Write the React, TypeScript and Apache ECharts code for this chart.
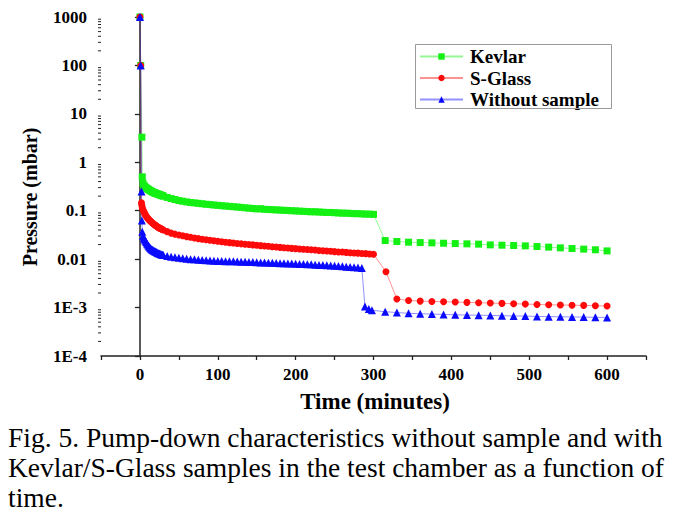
import React, { useEffect, useRef } from "react";
import * as echarts from "echarts";

// ---- Data ----
const denseTime = [
  5, 10, 15, 20, 25, 30, 35, 40, 45, 50, 55, 60, 65, 70, 75, 80, 85, 90, 95, 100,
  105, 110, 115, 120, 125, 130, 135, 140, 145, 150, 155, 160, 165, 170, 175, 180, 185, 190, 195, 200,
  205, 210, 215, 220, 225, 230, 235, 240, 245, 250, 255, 260, 265, 270, 275, 280, 285, 290, 295, 300,
];
const earlyTime = [6, 7, 8, 9, 11, 12, 13, 14, 16, 17, 18, 19, 21, 22, 23, 24, 26, 27, 28, 29];
const tailTime = [315, 330, 345, 360, 375, 390, 405, 420, 435, 450, 465, 480, 495, 510, 525, 540, 555, 570, 585, 600];

const kevlarHeadTime = [0, 1, 2.5, 3, 4];
const kevlarHead = [1000, 100, 3.3, 0.5, 0.37];
const kevlarEarly = [
  0.32, 0.305, 0.295, 0.287, 0.274, 0.268, 0.262, 0.256, 0.245, 0.241,
  0.237, 0.233, 0.227, 0.224, 0.221, 0.218, 0.212, 0.209, 0.206, 0.203,
];
const kevlarDense = [
  0.33, 0.28, 0.25, 0.23, 0.215, 0.2, 0.188, 0.178, 0.17, 0.162, 0.157, 0.152, 0.148, 0.145, 0.142, 0.139, 0.136, 0.134, 0.131, 0.129,
  0.127, 0.125, 0.123, 0.121, 0.119, 0.117, 0.115, 0.113, 0.111, 0.109, 0.11, 0.107, 0.106, 0.105, 0.104, 0.103, 0.102, 0.101, 0.1, 0.099,
  0.098, 0.097, 0.096, 0.095, 0.095, 0.094, 0.093, 0.092, 0.092, 0.091, 0.09, 0.089, 0.089, 0.088, 0.087, 0.087, 0.086, 0.085, 0.085, 0.084,
];
const kevlarTail = [
  0.0242, 0.0231, 0.0224, 0.022, 0.0217, 0.0213, 0.021, 0.0207, 0.0204, 0.0197,
  0.0194, 0.0191, 0.0188, 0.0182, 0.0177, 0.0171, 0.0166, 0.0161, 0.0156, 0.0148,
];

const sglassHeadTime = [0, 1, 2, 2.5, 3, 4];
const sglassHead = [1000, 100, 0.145, 0.13, 0.115, 0.105];
const sglassEarly = [
  0.088, 0.082, 0.077, 0.073, 0.067, 0.064, 0.062, 0.06, 0.056, 0.054,
  0.0525, 0.051, 0.0485, 0.047, 0.0458, 0.0448, 0.0432, 0.0424, 0.0416, 0.0408,
];
const sglassDense = [
  0.095, 0.07, 0.058, 0.05, 0.044, 0.04, 0.037, 0.0345, 0.0328, 0.0315, 0.0303, 0.0292, 0.0282, 0.0273, 0.0265, 0.0258, 0.0252, 0.0246, 0.024, 0.0234,
  0.0229, 0.0224, 0.0219, 0.0215, 0.0211, 0.0207, 0.0203, 0.02, 0.0197, 0.0193, 0.019, 0.0187, 0.0184, 0.0181, 0.0178, 0.0175, 0.0172, 0.017, 0.0167, 0.0165,
  0.0162, 0.016, 0.0158, 0.0156, 0.0154, 0.0151, 0.0149, 0.0147, 0.0145, 0.0143, 0.0141, 0.014, 0.0138, 0.0136, 0.0134, 0.0133, 0.0131, 0.013, 0.0128, 0.0126,
];
const sglassDropTime = [316];
const sglassDrop = [0.0055];
const sglassTail = [
  0.0015, 0.0014, 0.00136, 0.00134, 0.00132, 0.0013, 0.00128, 0.00126, 0.00124, 0.00122,
  0.0012, 0.00118, 0.00116, 0.00114, 0.00113, 0.00112, 0.00111, 0.00109, 0.00108,
];

const blankHeadTime = [0, 1, 2, 2.5, 3, 4];
const blankHead = [1000, 100, 0.25, 0.063, 0.037, 0.03];
const blankEarly = [
  0.0255, 0.024, 0.0225, 0.021, 0.019, 0.018, 0.0172, 0.0165, 0.0157, 0.0153,
  0.0149, 0.0146, 0.014, 0.0137, 0.0134, 0.0132, 0.0128, 0.0126, 0.0125, 0.0123,
];
const blankDense = [
  0.027, 0.02, 0.016, 0.0143, 0.013, 0.0122, 0.0116, 0.0112, 0.011, 0.0107, 0.0104, 0.0102, 0.01, 0.0099, 0.0097, 0.0096, 0.0095, 0.0094, 0.0093, 0.0092,
  0.0092, 0.0091, 0.009, 0.009, 0.0089, 0.0088, 0.0088, 0.0087, 0.0087, 0.0086, 0.0085, 0.0085, 0.0084, 0.0084, 0.0083, 0.0082, 0.0082, 0.0081, 0.0081, 0.008,
  0.0079, 0.0079, 0.0078, 0.0078, 0.0077, 0.0076, 0.0076, 0.0075, 0.0074, 0.0073, 0.0072, 0.0071, 0.007, 0.0069, 0.0068, 0.0067, 0.0066,
];
const blankDropTime = [289, 294, 298];
const blankDrop = [0.00105, 0.00093, 0.00088];
const blankTail = [
  0.00082, 0.00079, 0.00076, 0.000745, 0.000733, 0.000722, 0.00071, 0.0007, 0.000695, 0.000689,
  0.000678, 0.000672, 0.000667, 0.000656, 0.00065, 0.000646, 0.00064, 0.000635, 0.00063, 0.000626,
];

const seriesNames = ["Kevlar", "S-Glass", "Without sample"];
const xTickLabels = [0, 100, 200, 300, 400, 500, 600];
const captionLines = [
  "Fig. 5. Pump-down characteristics without sample and with",
  "Kevlar/S-Glass samples in the test chamber as a function of",
  "time.",
];

function zip(ts: number[], vs: number[]): number[][] {
  return vs.map((v, i) => [ts[i], v]);
}
function byTime(a: number[], b: number[]) {
  return a[0] - b[0];
}

const SERIF = "Liberation Serif";

export default function App() {
  const ref = useRef<HTMLDivElement>(null);

  useEffect(() => {
    document.body.style.margin = "0";
    if (!ref.current) return;
    const chart = echarts.init(ref.current, undefined, { renderer: "svg" });

    const kevlarData = [
      ...zip(kevlarHeadTime, kevlarHead),
      ...zip(earlyTime, kevlarEarly),
      ...zip(denseTime, kevlarDense),
      ...zip(tailTime, kevlarTail),
    ].sort(byTime);
    const sglassData = [
      ...zip(sglassHeadTime, sglassHead),
      ...zip(earlyTime, sglassEarly),
      ...zip(denseTime, sglassDense),
      ...zip(sglassDropTime, sglassDrop),
      ...zip(tailTime.slice(1), sglassTail),
    ].sort(byTime);
    const blankData = [
      ...zip(blankHeadTime, blankHead),
      ...zip(earlyTime, blankEarly),
      ...zip(denseTime.slice(0, blankDense.length), blankDense),
      ...zip(blankDropTime, blankDrop),
      ...zip(tailTime, blankTail),
    ].sort(byTime);

    // log-axis minor tick positions (2..9 x 10^k)
    const minorVals: number[][] = [];
    for (let k = -4; k <= 2; k++) {
      for (let m = 2; m <= 9; m++) minorVals.push([-50, m * Math.pow(10, k)]);
    }

    const lineSeries = (name: string, data: number[][], color: string, symbol: string, size: number) => ({
      name,
      type: "line",
      data,
      symbol,
      symbolSize: size,
      showAllSymbol: true,
      itemStyle: { color },
      lineStyle: { color, width: 1, opacity: 0.45 },
      z: 3,
    });

    const option: any = {
      animation: false,
      backgroundColor: "#fff",
      grid: { left: 101, right: 36, top: 17, bottom: 167, containLabel: false },
      xAxis: {
        type: "value",
        min: -50,
        max: 650,
        interval: 50,
        axisLine: { show: true, onZero: false, lineStyle: { color: "#222", width: 1.5 } },
        axisTick: { show: true, length: 4, lineStyle: { color: "#222", width: 1.3 } },
        axisLabel: {
          formatter: (v: number) => (xTickLabels.indexOf(v) >= 0 ? String(v) : ""),
          fontFamily: SERIF,
          fontWeight: "bold",
          fontSize: 17,
          color: "#000",
          margin: 10,
        },
        splitLine: { show: false },
      },
      yAxis: {
        type: "log",
        logBase: 10,
        min: 1e-4,
        max: 1000,
        axisLine: { show: true, lineStyle: { color: "#222", width: 1.5 } },
        axisTick: { show: true, length: 5, lineStyle: { color: "#222", width: 1.3 } },
        axisLabel: {
          formatter: (v: number) => {
            const e = Math.round(Math.log10(v));
            if (e >= 0) return String(Math.round(Math.pow(10, e)));
            if (e === -1) return "0.1";
            if (e === -2) return "0.01";
            return "1E" + e;
          },
          fontFamily: SERIF,
          fontWeight: "bold",
          fontSize: 17,
          color: "#000",
          margin: 14,
        },
        splitLine: { show: false },
      },
      legend: {
        data: seriesNames,
        orient: "vertical",
        left: 419,
        top: 47,
        itemWidth: 43,
        itemHeight: 8,
        itemGap: 2.5,
        padding: 0,
        textStyle: { fontFamily: SERIF, fontWeight: "bold", fontSize: 19, lineHeight: 17, color: "#000", padding: [0, 0, 0, 2] },
      },
      graphic: [
        { type: "rect", shape: { x: 415.5, y: 44.5, width: 196, height: 64 }, style: { fill: "none", stroke: "#999", lineWidth: 1 }, z: 10 },
        {
          type: "text",
          x: 30,
          y: 197,
          rotation: Math.PI / 2,
          style: { text: "Pressure (mbar)", fontFamily: SERIF, fontWeight: "bold", fontSize: 20, fill: "#000", align: "center", verticalAlign: "middle" },
        },
        {
          type: "text",
          x: 375,
          y: 401,
          style: { text: "Time (minutes)", fontFamily: SERIF, fontWeight: "bold", fontSize: 23, fill: "#000", align: "center", verticalAlign: "middle" },
        },
        ...captionLines.map((t, i) => ({
          type: "text",
          x: 8,
          y: 437 + i * 30,
          style: { text: t, fontFamily: SERIF, fontSize: 27.5, fill: "#000", align: "left", verticalAlign: "middle" },
        })),
      ],
      series: [
        lineSeries(seriesNames[0], kevlarData, "#14f014", "rect", 7),
        lineSeries(seriesNames[1], sglassData, "#ff0a0a", "circle", 7),
        lineSeries(seriesNames[2], blankData, "#0a0aff", "triangle", 8),
        {
          type: "custom",
          silent: true,
          data: minorVals,
          renderItem: (_p: any, api: any) => {
            const pt = api.coord([api.value(0), api.value(1)]);
            return {
              type: "line",
              shape: { x1: pt[0] - 3, y1: pt[1], x2: pt[0], y2: pt[1] },
              style: { stroke: "#222", lineWidth: 1 },
            };
          },
          z: 1,
        },
      ],
    };

    chart.setOption(option);
    return () => chart.dispose();
  }, []);

  return <div ref={ref} style={{ width: 682, height: 523 }} />;
}
